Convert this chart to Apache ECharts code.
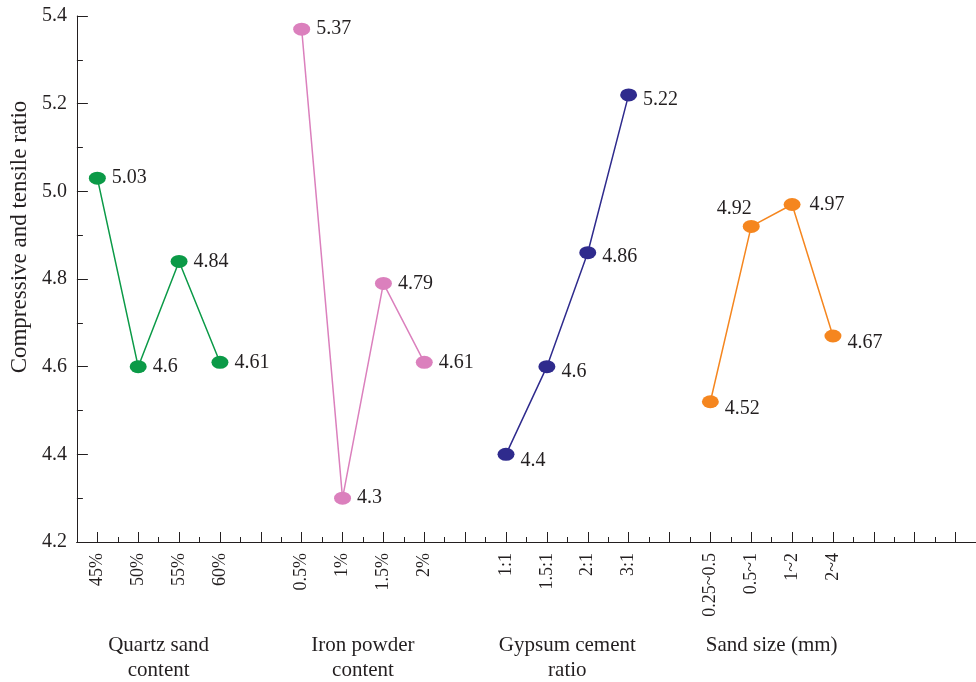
<!DOCTYPE html>
<html>
<head>
<meta charset="utf-8">
<script src="https://cdn.jsdelivr.net/npm/echarts@6/dist/echarts.min.js"></script>
<style>
  html, body { margin: 0; padding: 0; background: #fff; }
  #chart { width: 976px; height: 682px; }
</style>
</head>
<body>
<div id="chart"></div>
<script>
// categories along the x axis, blanks separate the factor groups
var categories = ['45%', '50%', '55%', '60%', '',
  '0.5%', '1%', '1.5%', '2%', '',
  '1:1', '1.5:1', '2:1', '3:1', '',
  '0.25~0.5', '0.5~1', '1~2', '2~4', '', '', ''];

var groupNames = ['Quartz sand\ncontent', 'Iron powder\ncontent', 'Gypsum cement\nratio', 'Sand size (mm)'];
var groupStart = [0, 5, 10, 15];

var quartzSand = [5.03, 4.6, 4.84, 4.61];
var ironPowder = [5.37, 4.3, 4.79, 4.61];
var gypsumCement = [4.4, 4.6, 4.86, 5.22];
var sandSize = [4.52, 4.92, 4.97, 4.67];

var colors = ['#0b9a47', '#db80bd', '#2f2b8d', '#f5861f'];
var serif = '"Liberation Serif", "DejaVu Serif", serif';
var ink = '#231f20';

// label tweaks per point
var labelTweaks = [
  [null, null, null, null],
  [null, null, null, null],
  [{ offset: [0, 6] }, { offset: [0, 5] }, { offset: [0, 4] }, { offset: [0, 5] }],
  [{ offset: [0, 7] }, { position: 'top', distance: 1, offset: [-17, 0] }, { distance: 9 }, { offset: [0, 7] }]
];

function makeSeries(values, idx) {
  return {
    type: 'line',
    xAxisIndex: 0,
    data: values.map(function (v, i) {
      var item = { value: [groupStart[idx] + i, v] };
      if (labelTweaks[idx][i]) item.label = labelTweaks[idx][i];
      return item;
    }),
    symbol: 'circle',
    symbolSize: [17, 13],
    itemStyle: { color: colors[idx] },
    lineStyle: { color: colors[idx], width: 1.5 },
    label: {
      show: true,
      position: 'right',
      distance: 6,
      color: ink,
      fontFamily: serif,
      fontSize: 20
    },
    z: 3
  };
}

var chart = echarts.init(document.getElementById('chart'));

var option = {
  backgroundColor: '#fff',
  animation: false,
  grid: { left: 76, top: 16, width: 906, bottom: 140 },
  xAxis: [
    {
      type: 'category',
      data: categories,
      boundaryGap: true,
      axisLine: { show: true, lineStyle: { color: ink, width: 1 } },
      axisTick: { show: true, interval: 0, alignWithLabel: true, inside: true, length: 10, lineStyle: { color: ink } },
      axisLabel: {
        interval: 0,
        rotate: 90,
        margin: 11,
        color: ink,
        fontFamily: serif,
        fontSize: 18
      }
    },
    {
      // second axis only for the short ticks between categories
      type: 'category',
      data: categories,
      position: 'bottom',
      boundaryGap: true,
      axisLine: { show: true, lineStyle: { color: ink, width: 1 } },
      axisTick: { show: true, interval: 0, inside: true, length: 5, lineStyle: { color: ink } },
      axisLabel: { show: false }
    }
  ],
  yAxis: {
    type: 'value',
    min: 4.2,
    max: 5.4,
    interval: 0.2,
    name: 'Compressive and tensile ratio',
    nameLocation: 'middle',
    nameGap: 44,
    nameTextStyle: { color: ink, fontFamily: serif, fontSize: 23, padding: [0, 0, 0, 84] },
    axisLine: { show: true, lineStyle: { color: ink, width: 1 } },
    axisTick: { show: true, inside: true, length: 11, lineStyle: { color: ink } },
    minorTick: { show: true, splitNumber: 2, length: 6, lineStyle: { color: ink } },
    splitLine: { show: false },
    axisLabel: {
      margin: 10,
      color: ink,
      fontFamily: serif,
      fontSize: 20,
      formatter: function (v) { return v.toFixed(1); }
    }
  },
  series: [
    makeSeries(quartzSand, 0),
    makeSeries(ironPowder, 1),
    makeSeries(gypsumCement, 2),
    makeSeries(sandSize, 3)
  ]
};

chart.setOption(option);

// group titles centred under each block of four categories
var graphics = groupNames.map(function (name, g) {
  var x0 = chart.convertToPixel({ xAxisIndex: 0 }, groupStart[g]);
  var x1 = chart.convertToPixel({ xAxisIndex: 0 }, groupStart[g] + 3);
  return {
    type: 'text',
    x: (x0 + x1) / 2,
    y: 633,
    style: {
      text: name,
      textAlign: 'center',
      textVerticalAlign: 'top',
      fontFamily: serif,
      fontSize: 21,
      lineHeight: 25,
      fill: ink
    }
  };
});
chart.setOption({ graphic: graphics });
</script>
</body>
</html>
